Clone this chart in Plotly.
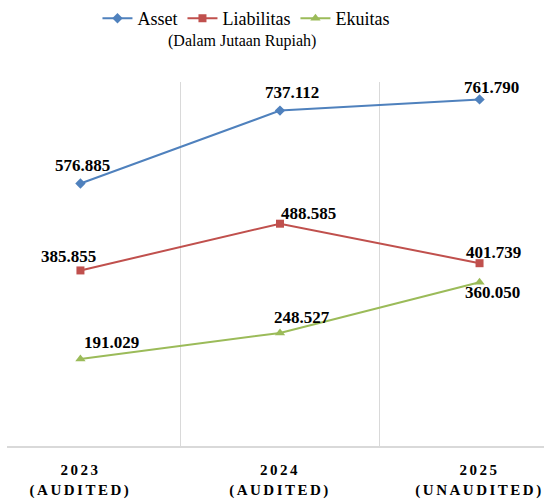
import plotly.graph_objects as go

categories = ["2023<br>(AUDITED)", "2024<br>(AUDITED)", "2025<br>(UNAUDITED)"]
asset = [576885, 737112, 761790]
liabilitas = [385855, 488585, 401739]
ekuitas = [191029, 248527, 360050]
series_names = ["Asset", "Liabilitas", "Ekuitas"]
subtitle = "(Dalam Jutaan Rupiah)"

SERIF = "Liberation Serif, Times New Roman, DejaVu Serif, serif"
colors = ["#4F81BD", "#C0504D", "#9BBB59"]
symbols = ["diamond", "square", "triangle-up"]
msizes = [8, 8, 9]
# label offsets in px (xshift, yshift) per series per point
label_shifts = [
    [(2, 18), (12, 18), (12, 12)],
    [(-12, 14), (29, 10), (14, 11)],
    [(31, 17), (22, 15), (13, -10)],
]

def fmt(v):
    return f"{v:,}".replace(",", ".")

fig = go.Figure()
annotations = []
for name, vals, col, sym, ms, shifts in zip(series_names, [asset, liabilitas, ekuitas],
                                             colors, symbols, msizes, label_shifts):
    fig.add_trace(go.Scatter(
        x=categories, y=vals, name=name, mode="lines+markers",
        line=dict(color=col, width=2),
        marker=dict(symbol=sym, size=ms, color=col),
    ))
    for c, v, (dx, dy) in zip(categories, vals, shifts):
        annotations.append(dict(
            x=c, y=v, text=fmt(v), showarrow=False, xshift=dx, yshift=dy,
            font=dict(family=SERIF, size=17, color="#000000", weight="bold"),
        ))

annotations.append(dict(
    x=0.4376, y=1 + (82 - 41) / 364.0, xref="paper", yref="paper", yanchor="middle",
    text=subtitle, showarrow=False,
    font=dict(family=SERIF, size=16, color="#000000"),
))

fig.update_layout(
    width=544, height=500,
    margin=dict(l=7, r=0, t=82, b=54),
    paper_bgcolor="white", plot_bgcolor="white",
    font=dict(family=SERIF, color="#000000"),
    showlegend=True,
    legend=dict(
        orientation="h", x=0.445, xanchor="center", y=1 + 82 / 364.0, yanchor="top",
        font=dict(family=SERIF, size=18, color="#000000"),
        itemwidth=30, bgcolor="rgba(0,0,0,0)",
    ),
    annotations=annotations,
    xaxis=dict(
        type="category", range=[-0.368, 2.323], automargin=False,
        tickson="boundaries", showgrid=True, gridcolor="#D9D9D9", gridwidth=1,
        showline=True, linecolor="#D9D9D9", linewidth=2,
        ticks="", zeroline=False, ticklabelstandoff=9,
        tickfont=dict(family=SERIF, size=15, color="#000000", weight="bold"),
    ),
    yaxis=dict(
        range=[0, 800000], visible=False, showgrid=False, zeroline=False, automargin=False,
    ),
)

post = (
    "document.body.style.margin='0';"
    "var s=document.createElement('style');"
    "s.textContent='.xtick text{letter-spacing:2.5px}';"
    "document.head.appendChild(s);"
)
fig.write_html("out.html", post_script=post, config={"displayModeBar": False})
